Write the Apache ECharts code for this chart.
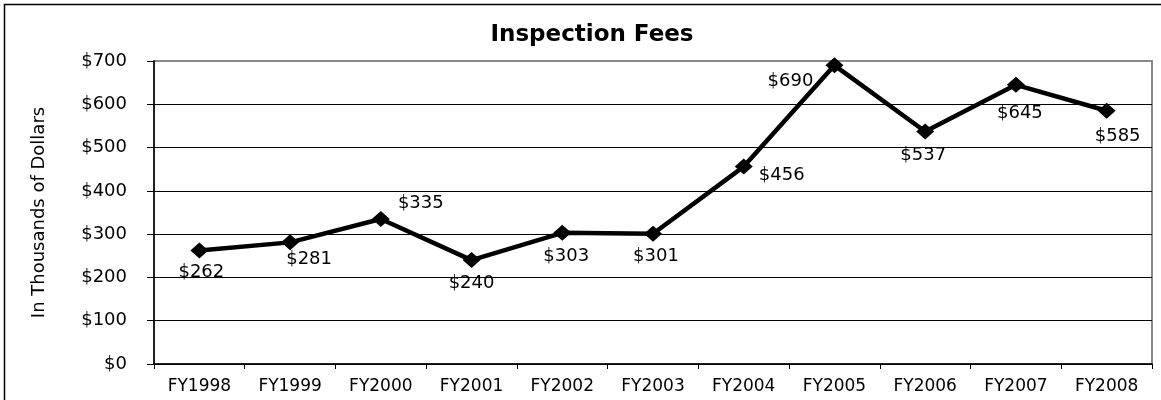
<!DOCTYPE html>
<html>
<head>
<meta charset="utf-8">
<script src="https://cdn.jsdelivr.net/npm/echarts@6/dist/echarts.min.js"></script>
<style>
html,body{margin:0;padding:0;background:#fff;}
#chart{width:1161px;height:400px;}
</style>
</head>
<body>
<div id="chart"></div>
<script>
const categories = ['FY1998','FY1999','FY2000','FY2001','FY2002','FY2003','FY2004','FY2005','FY2006','FY2007','FY2008'];
const fees = [262, 281, 335, 240, 303, 301, 456, 690, 537, 645, 585];
const yTicks = [0, 100, 200, 300, 400, 500, 600, 700];
const labelOffsets = [[2,22],[19,17],[40,-16],[0,23],[4,23],[3,23],[38,9],[-44,16],[-2,24],[4,29],[11,26]];

const FONT = 'DejaVu Sans';
const chart = echarts.init(document.getElementById('chart'), null, {renderer:'canvas'});
const splitColors = yTicks.map((t, i) => i === yTicks.length - 1 ? '#888888' : '#000000');

chart.setOption({
  animation: false,
  backgroundColor: '#ffffff',
  title: {
    text: 'Inspection Fees',
    left: 587,
    top: 19,
    textAlign: 'center',
    textStyle: {fontFamily: FONT, fontWeight: 'bold', fontSize: 23, color: '#000'}
  },
  graphic: [{
    type: 'rect',
    shape: {x: 4.5, y: 4.5, width: 1170, height: 420},
    style: {fill: 'none', stroke: '#000', lineWidth: 1.5},
    silent: true,
    z: 100
  }],
  grid: {
    left: 154, right: 9, top: 61, bottom: 36,
    show: true,
    borderColor: '#888888',
    borderWidth: 2,
    backgroundColor: '#ffffff'
  },
  xAxis: {
    type: 'category',
    data: categories,
    boundaryGap: true,
    axisLine: {lineStyle: {color: '#000', width: 1.5}},
    axisTick: {show: true, length: 5, inside: false, lineStyle: {color: '#000'}},
    axisLabel: {fontFamily: FONT, fontSize: 17, color: '#000', margin: 14, interval: 0},
    splitLine: {show: false}
  },
  yAxis: {
    type: 'value',
    min: yTicks[0],
    max: yTicks[yTicks.length - 1],
    interval: 100,
    name: 'In Thousands of Dollars',
    nameLocation: 'middle',
    nameGap: 106,
    nameRotate: 90,
    nameTextStyle: {fontFamily: FONT, fontSize: 18, color: '#000'},
    axisLine: {show: true, lineStyle: {color: '#000', width: 1.5}},
    axisTick: {show: true, length: 7, lineStyle: {color: '#000'}},
    axisLabel: {fontFamily: FONT, fontSize: 18, color: '#000', margin: 27,
      formatter: v => '$' + v},
    splitLine: {show: true, lineStyle: {color: splitColors, width: 1}}
  },
  series: [{
    type: 'line',
    data: fees.map((v, i) => ({
      value: v,
      label: {offset: labelOffsets[i]}
    })),
    symbol: 'diamond',
    symbolSize: [18, 16],
    itemStyle: {color: '#000'},
    lineStyle: {color: '#000', width: 4.5},
    label: {
      show: true,
      position: 'inside',
      fontFamily: FONT,
      fontSize: 18,
      color: '#000',
      formatter: p => '$' + p.value
    },
    z: 10
  }]
});
</script>
</body>
</html>
